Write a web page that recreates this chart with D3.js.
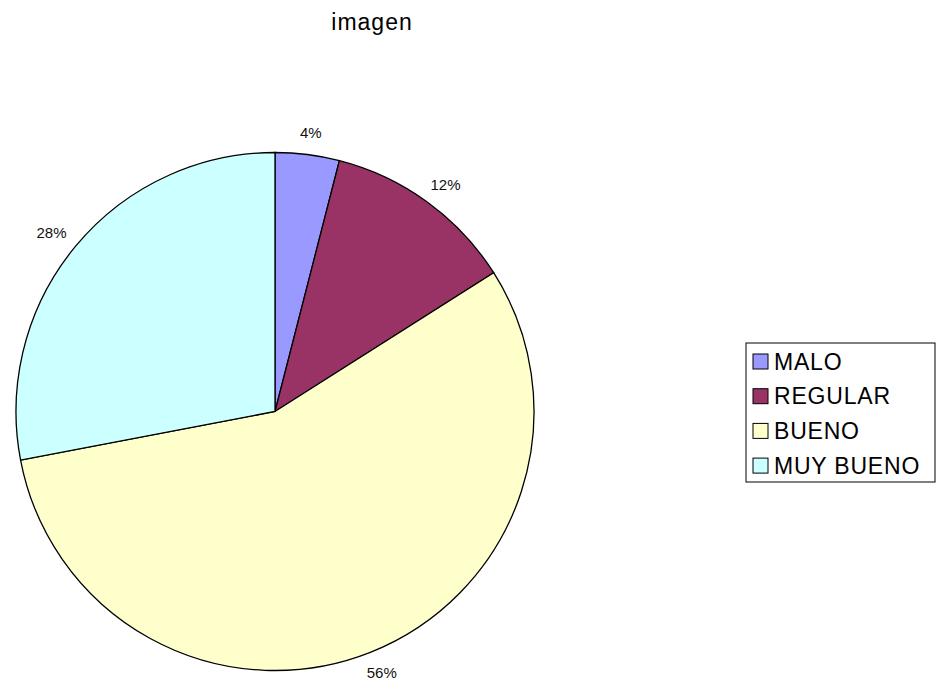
<!DOCTYPE html>
<html>
<head>
<meta charset="utf-8">
<script src="https://cdn.jsdelivr.net/npm/d3@7"></script>
<style>
  body { margin: 0; background: #fff; }
  text { font-family: "Liberation Sans", Arial, sans-serif; }
</style>
</head>
<body>
<div id="chart"></div>
<script>
// data
const categories = ['MALO', 'REGULAR', 'BUENO', 'MUY BUENO'];
const values = [4, 12, 56, 28];
const colors = ['#9999FF', '#993366', '#FFFFCC', '#CCFFFF'];

const width = 939;
const height = 681;
const cx = 275, cy = 411.5;
const radius = 259;
const labelGap = 16;

const svg = d3.select('#chart').append('svg')
  .attr('width', width)
  .attr('height', height);

svg.append('text')
  .attr('x', 372)
  .attr('y', 30)
  .attr('text-anchor', 'middle')
  .style('font-size', '23px')
  .style('letter-spacing', '1px')
  .text('imagen');

const data = categories.map((c, i) => ({ name: c, value: values[i], color: colors[i] }));

const pie = d3.pie().sort(null).value(d => d.value);
const arc = d3.arc().innerRadius(0).outerRadius(radius);
const total = d3.sum(values);

const g = svg.append('g').attr('transform', `translate(${cx},${cy})`);

g.selectAll('path')
  .data(pie(data))
  .enter().append('path')
  .attr('d', arc)
  .attr('fill', d => d.data.color)
  .attr('stroke', '#000')
  .attr('stroke-width', 1.3);

// labels sit just outside the rim, the box pushed outward by half its size
const labelSize = 15;
g.selectAll('text.lbl')
  .data(pie(data))
  .enter().append('text')
  .attr('class', 'lbl')
  .attr('text-anchor', 'middle')
  .attr('dy', '0.35em')
  .style('font-size', labelSize + 'px')
  .attr('fill', '#111')
  .text(d => Math.round(d.data.value / total * 100) + '%')
  .attr('transform', function(d) {
    const a = (d.startAngle + d.endAngle) / 2;
    const w = this.getComputedTextLength();
    const h = labelSize * 0.75;
    const x = (radius + labelGap) * Math.sin(a) + w / 2 * Math.sin(a);
    const y = -(radius + labelGap) * Math.cos(a) - h / 2 * Math.cos(a);
    return `translate(${x},${y})`;
  });

// legend
const legend = svg.append('g').attr('transform', 'translate(746,343)');
legend.append('rect')
  .attr('width', 189)
  .attr('height', 139)
  .attr('fill', '#fff')
  .attr('stroke', '#000')
  .attr('stroke-width', 1);

const item = legend.selectAll('g.item')
  .data(data)
  .enter().append('g')
  .attr('class', 'item')
  .attr('transform', (d, i) => `translate(7,${18.5 + i * 34.7})`);

item.append('rect')
  .attr('x', 0)
  .attr('y', -7.5)
  .attr('width', 15)
  .attr('height', 15)
  .attr('fill', d => d.color)
  .attr('stroke', '#000')
  .attr('stroke-width', 1);

item.append('text')
  .attr('x', 21)
  .attr('dy', '0.36em')
  .style('font-size', '23px')
  .style('letter-spacing', '0.8px')
  .text(d => d.name);
</script>
</body>
</html>
